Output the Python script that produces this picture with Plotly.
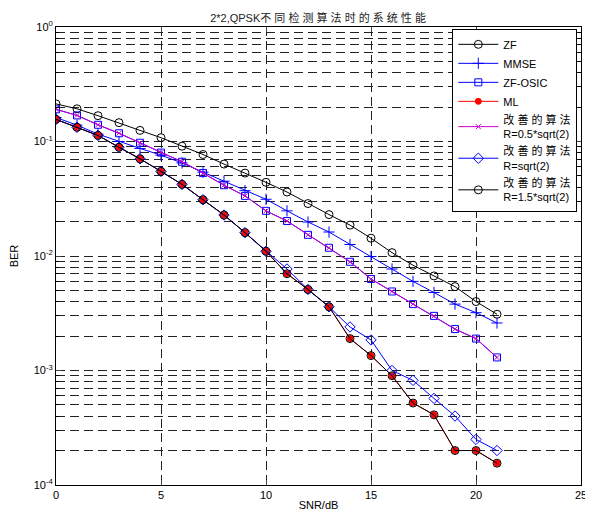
import plotly.graph_objects as go

snr = list(range(22))

ber_zf = [0.213, 0.193, 0.168, 0.146, 0.125, 0.108, 0.091, 0.077, 0.0635, 0.053, 0.044,
          0.0362, 0.0287, 0.023, 0.0186, 0.0143, 0.0107, 0.0083, 0.0067, 0.0054, 0.0040, 0.0031]
ber_mmse = [0.162, 0.139, 0.116, 0.100, 0.087, 0.076, 0.065, 0.054, 0.045, 0.0372, 0.0313,
            0.0248, 0.0198, 0.0162, 0.0126, 0.0099, 0.0077, 0.0060, 0.0048, 0.0038, 0.0032, 0.0026]
ber_zfosic = [0.191, 0.169, 0.140, 0.118, 0.0975, 0.080, 0.0665, 0.053, 0.0415, 0.0335, 0.0248,
              0.0202, 0.0153, 0.0118, 0.0089, 0.0063, 0.0049, 0.0038, 0.0030, 0.0023, 0.0019, 0.0013]
ber_ml = [0.156, 0.133, 0.113, 0.089, 0.0706, 0.0548, 0.0422, 0.031, 0.0228, 0.016, 0.011,
          0.0070, 0.0051, 0.0036, 0.0019, 0.00135, 0.0009, 0.00052, 0.00041, 0.0002, 0.0002, 0.000155]
ber_imp_05 = [0.191, 0.169, 0.140, 0.118, 0.0975, 0.080, 0.0665, 0.053, 0.0415, 0.0335, 0.0248,
              0.0202, 0.0153, 0.0118, 0.0089, 0.0063, 0.0049, 0.0038, 0.0030, 0.0023, 0.0019, 0.0013]
ber_imp_1 = [0.156, 0.133, 0.113, 0.089, 0.0706, 0.0548, 0.0422, 0.031, 0.0228, 0.016, 0.011,
             0.0077, 0.0051, 0.0036, 0.0024, 0.00185, 0.0010, 0.00082, 0.00057, 0.00040, 0.00025, 0.0002]
ber_imp_15 = [0.156, 0.133, 0.113, 0.089, 0.0706, 0.0548, 0.0422, 0.031, 0.0228, 0.016, 0.011,
              0.0070, 0.0051, 0.0036, 0.0019, 0.00135, 0.0009, 0.00052, 0.00041, 0.0002, 0.0002, 0.000155]

names = ["ZF", "MMSE", "ZF-OSIC", "ML",
         "改 善 的 算 法<br>R=0.5*sqrt(2)",
         "改 善 的 算 法<br>R=sqrt(2)",
         "改 善 的 算 法<br>R=1.5*sqrt(2)"]

x_ticks = [0, 5, 10, 15, 20, 25]
y_decades = [1e-4, 1e-3, 1e-2, 1e-1, 1e0]
y_decade_labels = ["10<sup>-4</sup>", "10<sup>-3</sup>", "10<sup>-2</sup>", "10<sup>-1</sup>", "10<sup>0</sup>"]
y_minor = [m * 10 ** k for k in range(-4, 0) for m in range(2, 10)]

FONT = "Arial, Liberation Sans, Noto Sans CJK SC, sans-serif"

fig = go.Figure()

def add(y, name, color, symbol, size, fill=None, lw=1):
    marker = dict(symbol=symbol, size=size, color=fill if fill else color,
                  line=dict(color=color, width=1))
    fig.add_trace(go.Scatter(x=snr, y=y, name=name, mode="lines+markers",
                             line=dict(color=color, width=lw), marker=marker))

add(ber_zf, names[0], "black", "circle-open", 8)
add(ber_mmse, names[1], "#0000ff", "cross-thin-open", 8)
add(ber_zfosic, names[2], "#0000ff", "square-open", 7)
add(ber_ml, names[3], "#ff0000", "circle", 6, fill="#ff0000")
add(ber_imp_05, names[4], "#cc00cc", "x-thin-open", 5)
add(ber_imp_1, names[5], "#0000ff", "diamond-open", 8)
add(ber_imp_15, names[6], "black", "circle-open", 8)

GRID = dict(showgrid=True, gridcolor="#222222", griddash="9px,5px", gridwidth=1)

# page body has an 8px margin; size figure so the page layout matches 593x512
W, H = 585, 504
fig.update_layout(
    width=W, height=H,
    margin=dict(l=48, r=12, t=19, b=27),
    paper_bgcolor="white", plot_bgcolor="white",
    font=dict(family=FONT, size=11, color="black"),
    title=dict(text="2*2,QPSK不 同 检 测 算 法 时 的 系 统 性 能", x=0.53, xanchor="center",
               y=1 - 10 / H, yanchor="middle", yref="container",
               font=dict(size=11, color="#222222")),
    showlegend=True,
    legend=dict(x=0.993, y=0.996, xanchor="right", yanchor="top",
                bgcolor="white", bordercolor="black", borderwidth=1,
                font=dict(size=11, family=FONT), itemwidth=40,
                tracegroupgap=0),
)

fig.update_xaxes(range=[0, 25], tickvals=x_ticks, ticks="inside", ticklen=5,
                 showline=True, linecolor="black", linewidth=1, mirror="ticks",
                 zeroline=False, tickfont=dict(size=11), automargin=False,
                 title=dict(text="SNR/dB", standoff=1, font=dict(size=11)), **GRID)
fig.update_yaxes(type="log", range=[-4, 0], tickvals=y_decades, ticktext=y_decade_labels,
                 ticks="inside", ticklen=5,
                 minor=dict(tickvals=y_minor, ticks="inside", ticklen=3, tickcolor="black", **GRID),
                 showline=True, linecolor="black", linewidth=1, mirror="ticks",
                 zeroline=False, tickfont=dict(size=11), automargin=False,
                 title=dict(text="BER", standoff=13, font=dict(size=11)), **GRID)

fig.write_html("out.html")
